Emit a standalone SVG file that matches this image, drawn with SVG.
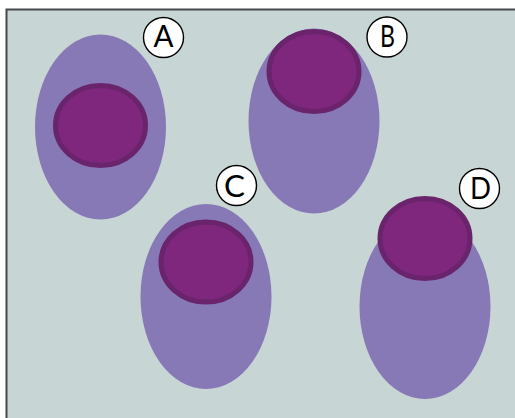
<svg xmlns="http://www.w3.org/2000/svg" width="515" height="418" viewBox="0 0 515 418">
  <style>
    .panel { fill: #c7d6d4; stroke: #45494a; stroke-width: 2; }
    .outer { fill: #8778b6; }
    .inner { fill: #7f277c; stroke: #69246c; stroke-width: 5; }
    .badge { fill: #ffffff; stroke: #000000; stroke-width: 1.4; }
    .label { font-family: "Lato", "Liberation Sans", sans-serif; font-weight: 400; font-size: 30px; text-anchor: middle; fill: #000000; }
  </style>
  <rect width="515" height="418" fill="#ffffff"/>
  <rect class="panel" x="6.500" y="9.500" width="510" height="412"/>
  <g id="cell-a">
    <ellipse class="outer" cx="100.500" cy="127" rx="65.500" ry="92.500"/>
    <ellipse class="inner" cx="100.500" cy="125.500" rx="45" ry="40"/>
    <circle class="badge" cx="163.500" cy="37.500" r="20"/>
    <text class="label" x="163.500" y="47" textLength="20" lengthAdjust="spacingAndGlyphs">A</text>
  </g>
  <g id="cell-b">
    <ellipse class="outer" cx="314" cy="121" rx="65.500" ry="92.500"/>
    <ellipse class="inner" cx="314" cy="71.500" rx="45" ry="40"/>
    <circle class="badge" cx="387" cy="37" r="20"/>
    <text class="label" x="387.500" y="46.500" textLength="15" lengthAdjust="spacingAndGlyphs">B</text>
  </g>
  <g id="cell-c">
    <ellipse class="outer" cx="206" cy="296.500" rx="65.500" ry="92.500"/>
    <ellipse class="inner" cx="206" cy="262" rx="45" ry="40"/>
    <circle class="badge" cx="236.500" cy="185.500" r="20"/>
    <text class="label" x="234.500" y="196.500" textLength="21" lengthAdjust="spacingAndGlyphs">C</text>
  </g>
  <g id="cell-d">
    <ellipse class="outer" cx="425" cy="306.500" rx="65.500" ry="92.500"/>
    <ellipse class="inner" cx="425" cy="238.500" rx="45" ry="40"/>
    <circle class="badge" cx="479.500" cy="188.500" r="20"/>
    <text class="label" x="480.500" y="199" textLength="21" lengthAdjust="spacingAndGlyphs">D</text>
  </g>
  <g id="connectors"/>
</svg>
